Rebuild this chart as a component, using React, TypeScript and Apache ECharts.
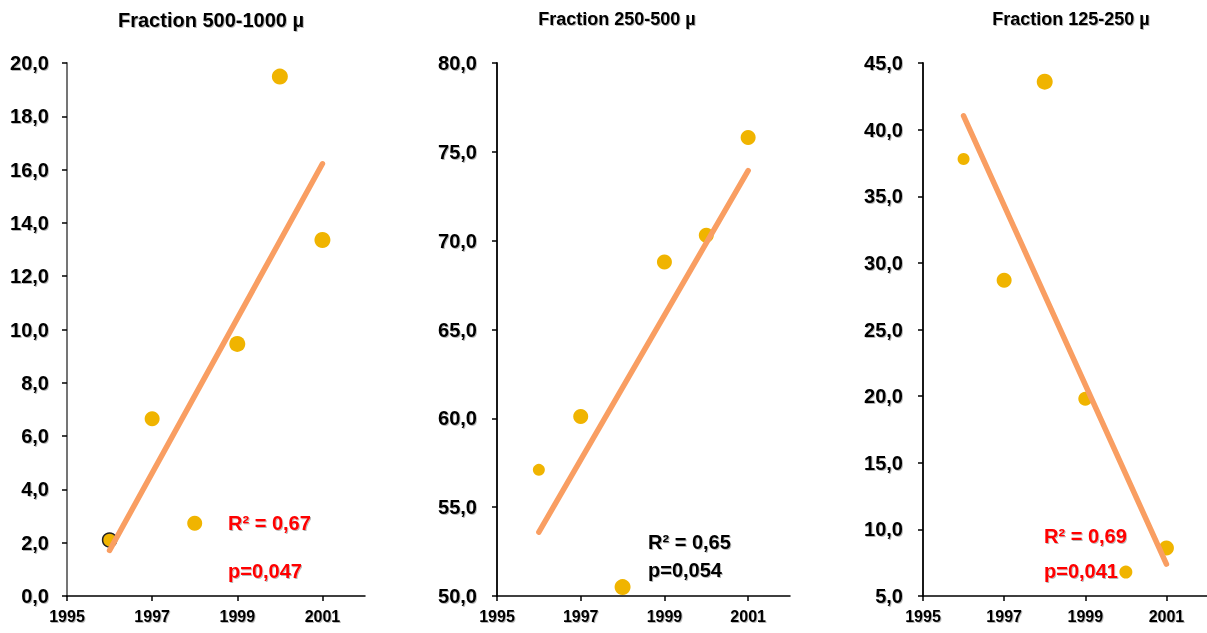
import React, { useEffect, useRef } from "react";
import * as echarts from "echarts";

const years = [1996, 1997, 1998, 1999, 2000, 2001];
const xTickLabels = [1995, 1997, 1999, 2001];

const titles = ["Fraction 500-1000 µ", "Fraction 250-500 µ", "Fraction 125-250 µ"];

const fraction500_1000 = [2.1, 6.65, 2.73, 9.46, 19.49, 13.36];
const fraction250_500 = [57.1, 60.1, 50.5, 68.8, 70.3, 75.8];
const fraction125_250 = [37.8, 28.7, 43.6, 19.8, 6.8, 8.6];

const r2Labels = ["R² = 0,67", "R² = 0,65", "R² = 0,69"];
const pLabels = ["p=0,047", "p=0,054", "p=0,041"];

const yMins = [0, 50, 5];
const yMaxs = [20, 80, 45];
const yIntervals = [2, 5, 5];

const FONT = "'Liberation Sans', Arial, Helvetica, sans-serif";
const POINT = "#F0B400";
const TREND = "#F99E62";

function regression(xs: number[], ys: number[]) {
  const n = xs.length;
  const mx = xs.reduce((a, b) => a + b, 0) / n;
  const my = ys.reduce((a, b) => a + b, 0) / n;
  let sxy = 0;
  let sxx = 0;
  for (let i = 0; i < n; i++) {
    sxy += (xs[i] - mx) * (ys[i] - my);
    sxx += (xs[i] - mx) * (xs[i] - mx);
  }
  const slope = sxy / sxx;
  const icpt = my - slope * mx;
  return (x: number) => icpt + slope * x;
}

export default function App() {
  const ref = useRef<HTMLDivElement>(null);

  useEffect(() => {
    if (!ref.current) return;
    const chart = echarts.init(ref.current, null, { renderer: "svg" });

    const datasets = [fraction500_1000, fraction250_500, fraction125_250];
    const grids = [
      { left: 67, top: 63, width: 298, height: 533 },
      { left: 497, top: 63, width: 293, height: 533 },
      { left: 923, top: 63, width: 292, height: 533 },
    ];
    const sizes = [
      [14, 15, 15, 16, 16, 16],
      [12, 15, 16, 15, 15, 15],
      [12, 15, 16, 14, 13, 15],
    ];
    const labelMargins = [18, 20, 20];
    const yAxisColors = ["#666", "#000", "#000"];
    const titleCenters = [206, 612, 1066];
    const titleSizes = [20, 18, 18];
    const annotColors = ["#FF0000", "#000000", "#FF0000"];
    const annotPos = [
      { x: 228, r2y: 523, py: 571 },
      { x: 648, r2y: 542, py: 570 },
      { x: 1044, r2y: 536, py: 571 },
    ];

    const shadow = {
      textShadowColor: "rgba(0,0,0,0.28)",
      textShadowBlur: 1,
      textShadowOffsetX: 1,
      textShadowOffsetY: 1,
    };

    const fmt = (v: number) => v.toFixed(1).replace(".", ",");

    const xAxis = grids.map((_, i) => ({
      type: "value",
      gridIndex: i,
      min: 1995,
      max: 2002,
      splitLine: { show: false },
      axisLine: { show: true, lineStyle: { color: "#000", width: 1.5 } },
      axisTick: {
        show: true,
        length: 5,
        customValues: xTickLabels,
        lineStyle: { color: "#000", width: 1.5 },
      },
      axisLabel: {
        customValues: xTickLabels,
        color: "#000",
        fontFamily: FONT,
        fontWeight: "bold",
        fontSize: 16,
        margin: 12,
        formatter: (v: number) => String(v),
        ...shadow,
      },
    }));

    const yAxis = grids.map((_, i) => ({
      type: "value",
      gridIndex: i,
      min: yMins[i],
      max: yMaxs[i],
      interval: yIntervals[i],
      splitLine: { show: false },
      axisLine: { show: true, lineStyle: { color: yAxisColors[i], width: 1.8 } },
      axisTick: { show: true, length: 5, lineStyle: { color: "#000", width: 1.5 } },
      axisLabel: {
        color: "#000",
        fontFamily: FONT,
        fontWeight: "bold",
        fontSize: 20,
        margin: labelMargins[i],
        formatter: fmt,
        ...shadow,
      },
    }));

    const series: any[] = [];
    datasets.forEach((ys, i) => {
      series.push({
        type: "scatter",
        xAxisIndex: i,
        yAxisIndex: i,
        z: 2,
        data: ys.map((y, j) => ({
          value: [years[j], y],
          symbolSize: sizes[i][j],
          itemStyle:
            i === 0 && j === 0
              ? { color: POINT, borderColor: "#222", borderWidth: 1.5, opacity: 1 }
              : { color: POINT, opacity: 1 },
        })),
      });
      const f = regression(years, ys);
      const x0 = years[0];
      const x1 = years[years.length - 1];
      series.push({
        type: "line",
        xAxisIndex: i,
        yAxisIndex: i,
        z: 3,
        showSymbol: false,
        symbol: "none",
        lineStyle: { color: TREND, width: 5.5, cap: "round" },
        data: [
          [x0, f(x0)],
          [x1, f(x1)],
        ],
      });
    });

    const graphic: any[] = [];
    annotPos.forEach((p, i) => {
      graphic.push({
        type: "text",
        x: p.x,
        y: p.r2y,
        style: {
          text: r2Labels[i],
          fill: annotColors[i],
          font: `bold 20px ${FONT}`,
          verticalAlign: "middle",
          ...shadow,
        },
      });
      graphic.push({
        type: "text",
        x: p.x,
        y: p.py,
        style: {
          text: pLabels[i],
          fill: annotColors[i],
          font: `bold 20px ${FONT}`,
          verticalAlign: "middle",
          ...shadow,
        },
      });
    });

    chart.setOption({
      animation: false,
      backgroundColor: "#fff",
      title: titles.map((t, i) => ({
        text: t,
        left: titleCenters[i],
        top: 5,
        textAlign: "center",
        textStyle: {
          fontFamily: FONT,
          fontWeight: "bold",
          fontSize: titleSizes[i],
          color: "#000",
          ...shadow,
        },
      })),
      grid: grids,
      xAxis,
      yAxis,
      series,
      graphic,
    });

    return () => chart.dispose();
  }, []);

  return (
    <div
      ref={ref}
      style={{ position: "fixed", left: 0, top: 0, width: 1207, height: 633, background: "#fff" }}
    />
  );
}
